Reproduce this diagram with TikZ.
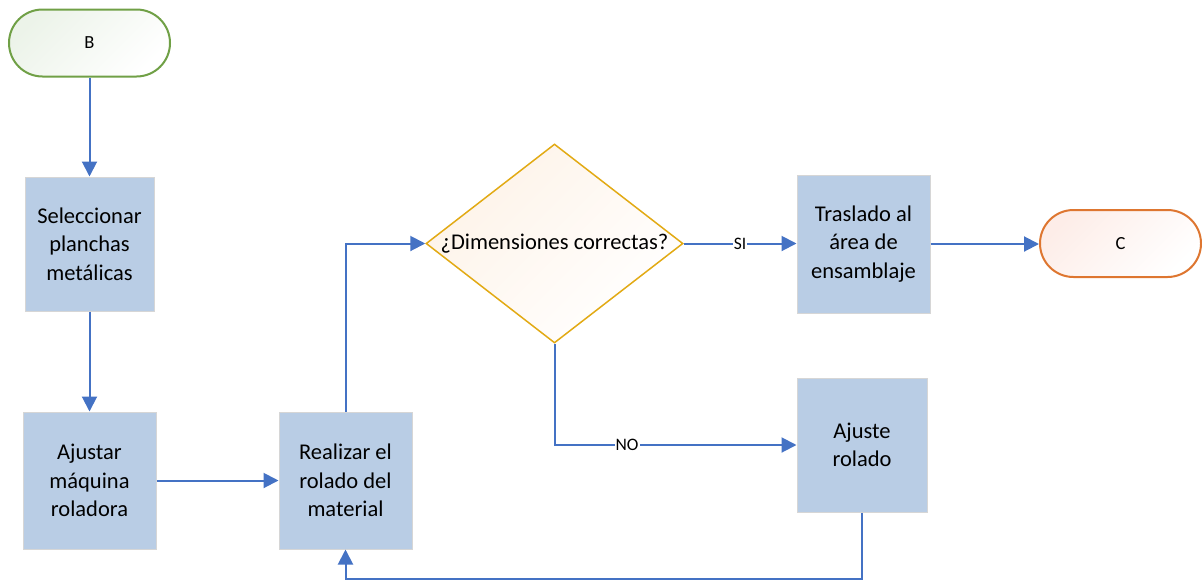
\documentclass[tikz,border=0pt]{standalone}
\usepackage{fontspec}
\setmainfont{Carlito}
\usetikzlibrary{arrows.meta,shapes.geometric}

\definecolor{boxblue}{RGB}{185,205,229}
\definecolor{boxedge}{RGB}{214,214,214}
\definecolor{flowblue}{RGB}{68,114,196}
\definecolor{decgold}{RGB}{226,170,20}
\definecolor{dectint}{RGB}{254,243,232}
\definecolor{startgreen}{RGB}{112,160,70}
\definecolor{starttint}{RGB}{236,243,233}
\definecolor{endorange}{RGB}{222,118,48}
\definecolor{endtint}{RGB}{253,237,232}

% soft tint in the upper left corner fading to white
\tikzset{
  tinted/.style={top color=white, bottom color=#1, shading angle=-135},
  process/.style={rectangle, fill=boxblue, draw=boxedge, line width=1pt,
    inner sep=0pt, align=center,
    font=\fontsize{22.5}{28.3}\selectfont},
  terminal/.style={rectangle, rounded corners=33.5pt, line width=2pt,
    minimum width=161pt, minimum height=67pt, inner sep=0pt,
    font=\fontsize{18.5}{22}\selectfont},
  decision/.style={diamond, draw=decgold, line width=1.5pt, tinted=dectint,
    minimum width=257pt, minimum height=199pt, inner sep=0pt},
  flow/.style={draw=flowblue, line width=2pt,
    -{Triangle[length=15pt,width=15pt]}},
  edgelabel/.style={fill=white, inner sep=1pt,
    font=\fontsize{17.5}{20}\selectfont},
}

\begin{document}
\begin{tikzpicture}[x=1pt, y=-1pt]
  \useasboundingbox (0,0) rectangle (1202,582);

  % start and end terminals
  \node[terminal, draw=startgreen, tinted=starttint]
    (B) at (89.5,43) {B};
  \node[terminal, draw=endorange, tinted=endtint]
    (C) at (1120.5,243.5) {C};

  % process steps
  \node[process, minimum width=129pt, minimum height=134pt]
    (sel) at (89.5,244) {Seleccionar\\planchas\\metálicas};
  \node[process, minimum width=133pt, minimum height=137pt]
    (aju) at (89.5,480.5) {Ajustar\\máquina\\roladora};
  \node[process, minimum width=133pt, minimum height=137pt]
    (rol) at (345.5,480.5) {Realizar el\\rolado del\\material};
  \node[process, minimum width=133pt, minimum height=138pt]
    (tra) at (863.5,244) {Traslado al\\área de\\ensamblaje};
  \node[process, minimum width=130pt, minimum height=134pt]
    (ajr) at (862,445) {Ajuste\\rolado};

  % decision
  \node[decision,
    label={[font=\fontsize{22.5}{28.3}\selectfont]center:¿Dimensiones correctas?}]
    (dim) at (554.5,243.5) {};

  % connectors
  \coordinate (base) at (0,579);
  \draw[flow] (B.south) -- (sel.north);
  \draw[flow] (sel.south) -- (aju.north);
  \draw[flow] (aju.east) -- (rol.west);
  \draw[flow] (rol.north) |- (dim.west);
  \draw[flow] (dim.east) -- node[edgelabel] {SI} (dim.east -| tra.west);
  \draw[flow] (tra.east) -- (tra.east -| C.west);
  \draw[flow] (dim.south) |- node[edgelabel, pos=0.65] {NO} (ajr.west);
  \draw[flow] (ajr.south) -- (ajr.south |- base) -| (rol.south);
\end{tikzpicture}
\end{document}
